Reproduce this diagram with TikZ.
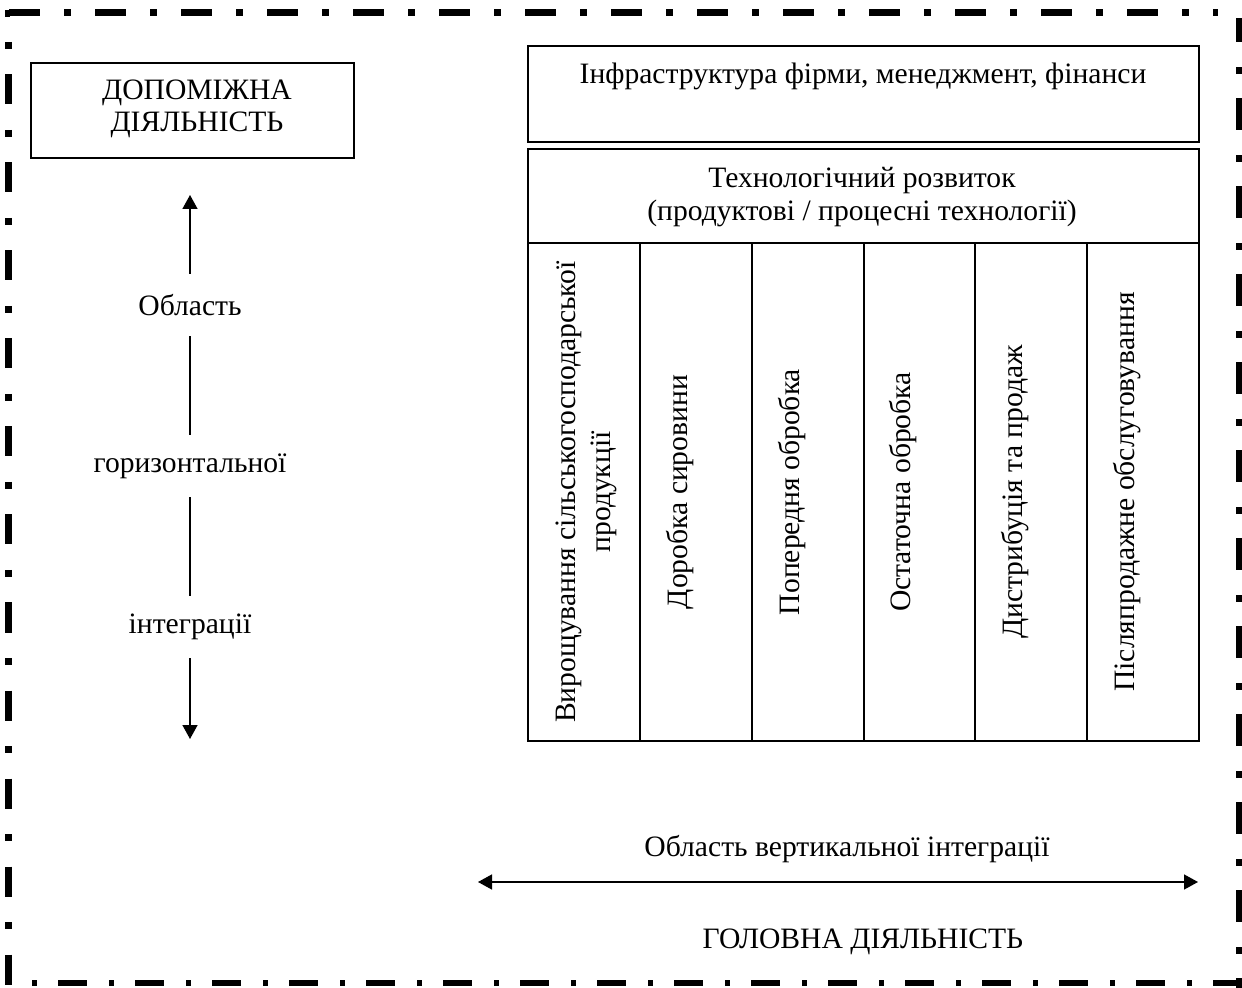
\documentclass[tikz,border=0pt]{standalone}
\usepackage{fontspec}
\setmainfont{Liberation Serif}
\usetikzlibrary{arrows.meta}
\begin{document}
\begin{tikzpicture}[x=0.5pt,y=-0.5pt,
  box/.style={draw,line width=1pt,inner sep=0pt,anchor=north west},
  txt/.style={font=\fontsize{14.8}{16.2}\selectfont,align=center,inner sep=0pt},
  vtxt/.style={txt,rotate=90},
  vlab/.style={txt,minimum height=31pt},
  arr/.style={line width=0.75pt,-{Triangle[length=7pt,width=7.5pt]}},
  bord/.style={line width=3.2pt}
]
\useasboundingbox (0,0) rectangle (1242,988);
% border
\coordinate (c1) at (9,12.5);
\coordinate (c2) at (1218,12.5);
\coordinate (c3) at (1239.5,18);
\coordinate (c4) at (1239.5,988);
\coordinate (c5) at (8.5,42);
\coordinate (c6) at (8.5,988);
\coordinate (c7) at (32,983);
\coordinate (c8) at (1242,983);
\fill (5,10) rectangle (10,17);
\draw[bord,dash pattern=on 15.5pt off 12pt on 3.5pt off 12pt] (c1) -- (c2);
\draw[bord,dash pattern=on 16pt off 12.5pt on 3.5pt off 12pt,dash phase=4pt] (c3) -- (c4);
\draw[bord,dash pattern=on 3.5pt off 12.75pt on 15pt off 12.75pt] (c5) -- (c6);
\draw[bord,dash pattern=on 2.5pt off 10.5pt on 14.5pt off 11pt] (c7) -- (c8);
% left box
\node[box,minimum width=161.5pt,minimum height=47.5pt] (dop) at (30,62) {};
\node[txt] (doptxt) at (197,109) {ДОПОМІЖНА\\ДІЯЛЬНІСТЬ};
% vertical arrow
\node[vlab] (obl) at (190,305) {Область};
\node[vlab] (hor) at (190,466) {горизонтальної};
\node[vlab] (int) at (190,627) {інтеграції};
\coordinate (vtop) at (190,195);
\coordinate (vbot) at (190,739);
\draw[arr] (obl.north) -- (vtop);
\draw[line width=0.75pt] (obl.south) -- (hor.north);
\draw[line width=0.75pt] (hor.south) -- (int.north);
\draw[arr] (int.south) -- (vbot);
% right block
\node[box,minimum width=335.5pt,minimum height=48pt] (infra) at (527,45) {};
\node[txt] (infratxt) at (863,76) {Інфраструктура фірми, менеджмент, фінанси};
\node[box,minimum width=335.5pt,minimum height=47pt] (tech) at (527,148) {};
\node[txt] (techtxt) at (862,197) {Технологічний розвиток\\(продуктові / процесні технології)};
\foreach \i/\x in {1/527,2/638.83,3/750.67,4/862.5,5/974.33,6/1086.17}{
  \node[box,minimum width=55.92pt,minimum height=249pt] (col\i) at (\x,242) {};
}
\node[vtxt,font=\fontsize{14.8}{17.5}\selectfont] (t1) at ([xshift=1pt]col1.center) {Вирощування сільськогосподарської\\продукції};
\node[vtxt] (t2) at ([xshift=-8pt]col2.center) {Доробка сировини};
\node[vtxt] (t3) at ([xshift=-8pt]col3.center) {Попередня обробка};
\node[vtxt] (t4) at ([xshift=-8pt]col4.center) {Остаточна обробка};
\node[vtxt] (t5) at ([xshift=-8pt]col5.center) {Дистрибуція та продаж};
\node[vtxt] (t6) at ([xshift=-8pt]col6.center) {Післяпродажне обслуговування};
% horizontal arrow
\node[txt] (vert) at (847,849) {Область вертикальної інтеграції};
\coordinate (hl) at (478,882);
\coordinate (hr) at (1198,882);
\draw[line width=0.75pt,{Triangle[length=7pt,width=7.5pt]}-{Triangle[length=7pt,width=7.5pt]}] (hl) -- (hr);
\node[txt] (main) at (863,942) {ГОЛОВНА ДІЯЛЬНІСТЬ};
\end{tikzpicture}
\end{document}
